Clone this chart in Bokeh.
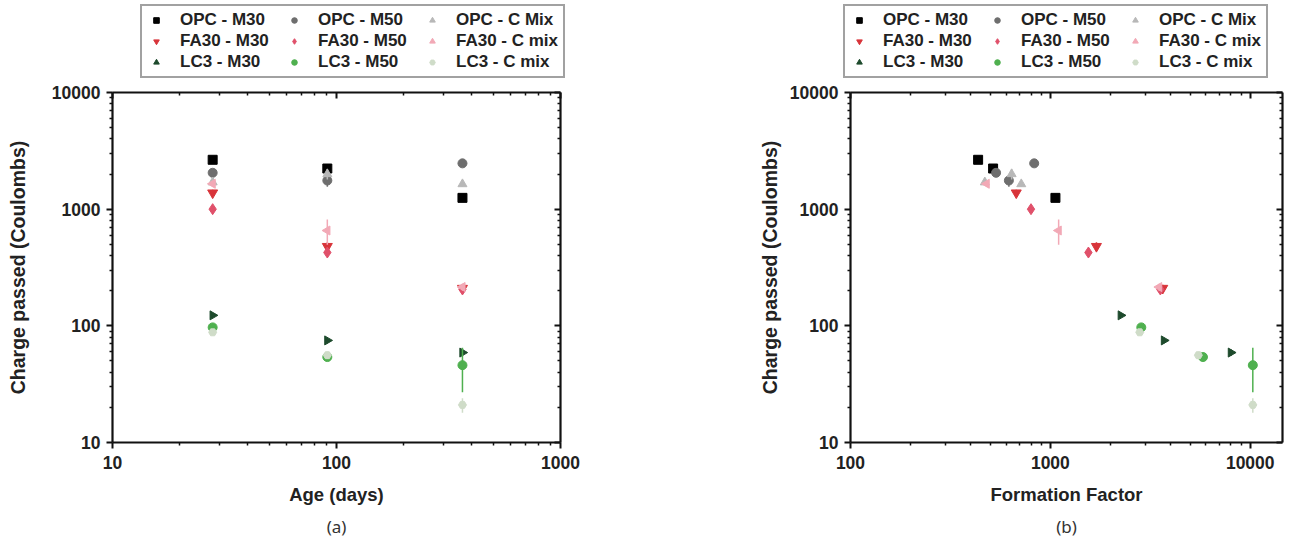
import numpy as np
from bokeh.plotting import figure
from bokeh.layouts import row, column
from bokeh.models import (Legend, LegendItem, Title, Range1d, PrintfTickFormatter,
                          FixedTicker, LogAxis)
from bokeh.embed import file_html
from bokeh.resources import INLINE

# ---- data ----
ages = [28, 91, 365]

labels = ["OPC - M30", "OPC - M50", "OPC - C Mix",
          "FA30 - M30", "FA30 - M50", "FA30 - C mix",
          "LC3 - M30", "LC3 - M50", "LC3 - C mix"]

opc_m30_q = [2650, 2230, 1250]
opc_m50_q = [2050, 1760, 2470]
opc_c_q = [1700, 2000, 1640]
fa_m30_q = [1380, 480, 210]
fa_m50_q = [1000, 425, 205]
fa_c_q = [1650, 656, 215]
lc_m30_q = [123, 75, 59]
lc_m50_q = [97, 54, 46]
lc_c_q = [88, 56, 21]

opc_m30_err = [50, 150, 90]
opc_m50_err = [60, 200, 80]
opc_c_err = [60, 200, 80]
fa_m30_err = [90, 40, 15]
fa_m50_err = [50, 30, 15]
fa_c_err = [100, 160, 15]
lc_m30_err = [5, 4, 4]
lc_m50_err = [6, 4, 19]
lc_c_err = [5, 4, 3]

opc_m30_ff = [435, 517, 1060]
opc_m50_ff = [535, 620, 830]
opc_c_ff = [470, 640, 715]
fa_m30_ff = [675, 1700, 3650]
fa_m50_ff = [800, 1550, 3550]
fa_c_ff = [480, 1100, 3500]
lc_m30_ff = [2250, 3700, 8000]
lc_m50_ff = [2850, 5800, 10300]
lc_c_ff = [2800, 5500, 10300]

y_major = [10, 100, 1000, 10000]
age_major = [10, 100, 1000]
ff_major = [100, 1000, 10000]

q_all = [opc_m30_q, opc_m50_q, opc_c_q, fa_m30_q, fa_m50_q, fa_c_q, lc_m30_q, lc_m50_q, lc_c_q]
err_all = [opc_m30_err, opc_m50_err, opc_c_err, fa_m30_err, fa_m50_err, fa_c_err, lc_m30_err, lc_m50_err, lc_c_err]
ff_all = [opc_m30_ff, opc_m50_ff, opc_c_ff, fa_m30_ff, fa_m50_ff, fa_c_ff, lc_m30_ff, lc_m50_ff, lc_c_ff]

colors = ["#000000", "#6e6e6e", "#b8b8b8",
          "#d8343a", "#e0506a", "#f2a9b6",
          "#1d4a2c", "#4fb04f", "#cfdcc8"]
markers = ["square", "circle", "triangle",
           "inverted_triangle", "diamond", "triangle",
           "triangle", "circle", "hex"]
angles = [0, 0, 0, 0, 0, np.pi / 2, -np.pi / 2, 0, 0]
sizes = [9, 9, 9, 10, 11, 9, 9, 9, 8]

FONT = "Liberation Sans"
LEG_H = 80
MAIN_H = 550 - LEG_H
TOP, BOTTOM = 12, 108


def minors(majors):
    out = []
    for m in majors[:-1]:
        out += [m * k for k in range(2, 10)]
    return out


def ticker(majors):
    return FixedTicker(ticks=majors, minor_ticks=minors(majors + [majors[-1] * 10]))


def style_axis(ax, majors):
    ax.ticker = ticker(majors)
    ax.formatter = PrintfTickFormatter(format="%d")
    ax.axis_line_width = 2.2
    ax.axis_line_color = "#111111"
    ax.major_tick_line_width = 2
    ax.minor_tick_line_width = 1.5
    ax.major_tick_line_color = "#111111"
    ax.minor_tick_line_color = "#111111"
    ax.major_label_text_font = FONT
    ax.major_label_text_font_style = "bold"
    ax.major_label_text_font_size = "17.5px"
    ax.major_label_text_color = "#222222"
    ax.axis_label_text_font = FONT
    ax.axis_label_text_font_style = "bold"
    ax.axis_label_text_color = "#222222"


def outer(ax):
    ax.major_tick_out = 6
    ax.major_tick_in = 0
    ax.minor_tick_out = 3
    ax.minor_tick_in = 0


def inner(ax):
    ax.major_tick_out = 0
    ax.major_tick_in = 6
    ax.minor_tick_out = 0
    ax.minor_tick_in = 3
    ax.major_label_text_alpha = 0
    ax.major_label_text_font_size = "1px"
    ax.major_label_standoff = 0


def make_panel(xdata, xlabel, xrange, xmajor, width, mbl, mbr, tag, ylab_standoff):
    p = figure(width=width, height=MAIN_H, x_axis_type="log", y_axis_type="log",
               x_range=Range1d(*xrange), y_range=Range1d(10, 10000),
               output_backend="svg", toolbar_location=None,
               min_border_left=mbl, min_border_right=mbr,
               min_border_top=TOP, min_border_bottom=BOTTOM)
    p.grid.visible = False
    p.outline_line_color = None
    for i in range(9):
        xs = xdata[i]
        qs = q_all[i]
        es = err_all[i]
        p.segment(x0=xs, x1=xs, y0=[q - e for q, e in zip(qs, es)],
                  y1=[q + e for q, e in zip(qs, es)], line_color=colors[i],
                  line_width=1.5)
        p.scatter(x=xs, y=qs, marker=markers[i], size=sizes[i], angle=angles[i],
                  fill_color=colors[i], line_color=colors[i])
    p.xaxis.axis_label = xlabel
    p.yaxis.axis_label = "Charge passed (Coulombs)"
    for ax in p.xaxis:
        style_axis(ax, xmajor)
        outer(ax)
        ax.major_label_standoff = 7
        ax.axis_label_standoff = 12
        ax.axis_label_text_font_size = "18.5px"
    for ax in p.yaxis:
        style_axis(ax, y_major)
        outer(ax)
        ax.major_label_standoff = 6
        ax.axis_label_standoff = ylab_standoff
        ax.axis_label_text_font_size = "19.5px"
    ra = LogAxis()
    style_axis(ra, y_major)
    inner(ra)
    ta = LogAxis()
    style_axis(ta, xmajor)
    inner(ta)
    p.add_layout(ra, "right")
    p.add_layout(ta, "above")
    p.add_layout(Title(text=tag, align="center", text_font="Noto Sans",
                       text_font_style="normal", text_font_size="17px",
                       text_color="#333333", standoff=10), "below")
    return p


def make_legend(width, leg_x):
    lf = figure(width=width, height=LEG_H, x_range=Range1d(0, 1), y_range=Range1d(0, 1),
                output_backend="svg", toolbar_location=None,
                x_axis_location=None, y_axis_location=None,
                min_border_left=0, min_border_right=0, min_border_top=0,
                min_border_bottom=0)
    lf.frame_align = False
    lf.grid.visible = False
    lf.outline_line_color = None
    items = []
    for i in range(9):
        r = lf.scatter(x=[-5], y=[-5], marker=markers[i], size=sizes[i], angle=angles[i],
                       fill_color=colors[i], line_color=colors[i])
        items.append(LegendItem(label=labels[i], renderers=[r]))
    leg = Legend(items=items, ncols=3, orientation="horizontal",
                 location=(leg_x, 2),
                 label_text_font=FONT, label_text_font_style="bold",
                 label_text_font_size="17px", label_text_color="#222222",
                 border_line_color="#444444", border_line_width=2,
                 label_height=17, label_width=103, glyph_height=14, glyph_width=20,
                 spacing=1, padding=4, margin=0, label_standoff=14)
    lf.add_layout(leg, "center")
    return lf


pa = make_panel([ages] * 9, "Age (days)", (10, 1000), age_major, 640, 112, 80, "(a)", 20)
pb = make_panel(ff_all, "Formation Factor", (100, 14500), ff_major, 650, 210, 8, "(b)", 6)
la = make_legend(640, 140)
lb = make_legend(650, 203)

layout = row(column(la, pa), column(lb, pb))
open("out.html", "w").write(file_html(layout, INLINE))
